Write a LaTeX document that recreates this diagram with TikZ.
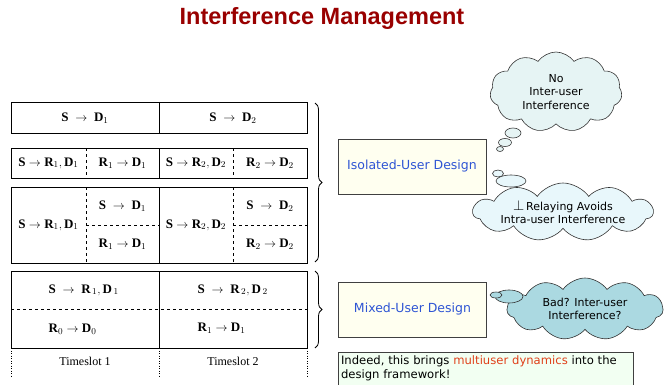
\documentclass[tikz,border=0pt]{standalone}
\usepackage{fontspec}
\setmainfont{Liberation Serif}
\setsansfont{DejaVu Sans}
\newfontfamily\titlefont{Liberation Sans}
\usetikzlibrary{shapes.symbols,decorations.pathreplacing}
\definecolor{titlered}{HTML}{990000}
\definecolor{designblue}{HTML}{2F55D4}
\definecolor{boxyellow}{HTML}{FFFFF0}
\definecolor{boxgreen}{HTML}{F2FFF2}
\definecolor{dynred}{HTML}{E0401A}
\definecolor{cloudpale}{HTML}{E6F4F4}
\definecolor{cloudice}{HTML}{E8F7FB}
\definecolor{cloudteal}{HTML}{ABD9E1}

\begin{document}
\begin{tikzpicture}[x=1pt, y=-1pt, line width=0.8pt,
  cell/.style={font=\fontsize{13}{15}\selectfont},
  slot/.style={font=\fontsize{12}{14}\selectfont},
  design/.style={draw=black!75, fill=boxyellow, minimum width=148pt, minimum height=55pt,
    inner sep=0pt, font=\sffamily\fontsize{12.5}{15}\selectfont, text=designblue},
  thought/.style={cloud, cloud puffs=11, cloud puff arc=110, cloud ignores aspect, draw=black!80,
    line width=0.6pt, inner sep=0pt, align=center, font=\sffamily\fontsize{11}{13.5}\selectfont},
  puff/.style={draw=black!80, line width=0.6pt},
  bracket/.style={decorate, decoration={brace, amplitude=7pt}, line width=0.8pt}]
\useasboundingbox (0,0) rectangle (666,385);

\node[font=\titlefont\bfseries\fontsize{23.5}{26}\selectfont, text=titlered] (title) at (322,18) {Interference Management};

% isolated-user rows
\draw (11,102) rectangle (307,133);
\draw (159,102) -- (159,133);
\node[cell] (a1) at (85,118) {$\mathbf{S}\;\rightarrow\;\mathbf{D}_{1}$};
\node[cell] (a2) at (233,118) {$\mathbf{S}\;\rightarrow\;\mathbf{D}_{2}$};

\draw (11,148) rectangle (307,178);
\draw (159,148) -- (159,178);
\draw[dashed, line width=0.5pt] (86,148) -- (86,178);
\draw[dashed, line width=0.5pt] (233,148) -- (233,178);
\node[cell] (b1) at (48.5,163) {$\mathbf{S}\rightarrow\mathbf{R}_{1},\mathbf{D}_{1}$};
\node[cell] (b2) at (122.5,163) {$\mathbf{R}_{1}\rightarrow\mathbf{D}_{1}$};
\node[cell] (b3) at (196,163) {$\mathbf{S}\rightarrow\mathbf{R}_{2},\mathbf{D}_{2}$};
\node[cell] (b4) at (270,163) {$\mathbf{R}_{2}\rightarrow\mathbf{D}_{2}$};

\draw (11,187) rectangle (307,263);
\draw (159,187) -- (159,263);
\draw[dashed, line width=0.5pt] (86,187) -- (86,263);
\draw[dashed, line width=0.5pt] (233,187) -- (233,263);
\draw[dashed, line width=0.5pt] (86,225) -- (159,225);
\draw[dashed, line width=0.5pt] (233,225) -- (307,225);
\node[cell] (c1) at (48.5,225) {$\mathbf{S}\rightarrow\mathbf{R}_{1},\mathbf{D}_{1}$};
\node[cell] (c2) at (122.5,206) {$\mathbf{S}\;\rightarrow\;\mathbf{D}_{1}$};
\node[cell] (c3) at (122.5,244) {$\mathbf{R}_{1}\rightarrow\mathbf{D}_{1}$};
\node[cell] (c4) at (196,225) {$\mathbf{S}\rightarrow\mathbf{R}_{2},\mathbf{D}_{2}$};
\node[cell] (c5) at (270,206) {$\mathbf{S}\;\rightarrow\;\mathbf{D}_{2}$};
\node[cell] (c6) at (270,244) {$\mathbf{R}_{2}\rightarrow\mathbf{D}_{2}$};

% mixed-user rows
\draw (11,271) rectangle (307,348);
\draw (159,271) -- (159,348);
\draw[dashed, line width=0.5pt] (11,309) -- (307,309);
\node[cell, anchor=west] (d1) at (45,290) {$\mathbf{S}\;\rightarrow\;\mathbf{R}_{\,1},\mathbf{D}_{\,1}$};
\node[cell, anchor=west] (d2) at (194,290) {$\mathbf{S}\;\rightarrow\;\mathbf{R}_{\,2},\mathbf{D}_{\,2}$};
\node[cell, anchor=west] (d3) at (45,329) {$\mathbf{R}_{0}\rightarrow\mathbf{D}_{0}$};
\node[cell, anchor=west] (d4) at (194,328) {$\mathbf{R}_{1}\rightarrow\mathbf{D}_{1}$};

\draw[dash pattern=on 1pt off 1.5pt, line width=0.5pt] (11,348) -- (11,378);
\draw[dash pattern=on 1pt off 1.5pt, line width=0.5pt] (159,348) -- (159,378);
\draw[dash pattern=on 1pt off 1.5pt, line width=0.5pt] (307,348) -- (307,378);
\node[slot] (t1) at (85,361) {Timeslot 1};
\node[slot] (t2) at (233,361) {Timeslot 2};

% braces and designs
\coordinate (iso top) at (315,103);
\coordinate (iso bot) at (315,262);
\coordinate (mix top) at (315,271);
\coordinate (mix bot) at (315,348);
\draw[bracket] (iso top) -- (iso bot);
\draw[bracket] (mix top) -- (mix bot);

\node[design] (iso) at (412,166.5) {Isolated-User Design};
\node[design] (mix) at (412.5,309.5) {Mixed-User Design};
\node[draw=black!75, fill=boxgreen, minimum width=295pt, minimum height=33pt, inner sep=0pt,
  text width=289pt, align=left, font=\sffamily\fontsize{11.6}{14.5}\selectfont] (note) at (485.5,368.5)
  {Indeed, this brings \textcolor{dynred}{multiuser dynamics} into the\\design framework!};

% thoughts
\node[thought, fill=cloudpale, minimum width=132pt, minimum height=80pt] (noint) at (556,92)
  {No\\Inter-user\\Interference};
\draw[puff, fill=cloudpale] (513,133) ellipse (8 and 5);
\draw[puff, fill=cloudpale] (505,142.5) ellipse (6.5 and 4);
\draw[puff, fill=cloudpale] (500,149) ellipse (3.5 and 2.5);

\node[thought, fill=cloudice, minimum width=180pt, minimum height=58pt] (ortho) at (563,212)
  {{\fontsize{15}{15}\selectfont$\perp$}\,Relaying Avoids\\Intra-user Interference};
\draw[puff, fill=cloudice] (511,181) ellipse (15 and 6);
\draw[puff, fill=cloudice] (498,173.5) ellipse (5.5 and 3.5);

\node[thought, fill=cloudteal, minimum width=156pt, minimum height=62pt] (bad) at (585,309)
  {Bad? Inter-user\\Interference?};
\draw[puff, fill=cloudteal] (509,296.5) ellipse (14 and 6.5);
\draw[puff, fill=cloudteal] (496,295) ellipse (6 and 3);
\end{tikzpicture}
\end{document}
